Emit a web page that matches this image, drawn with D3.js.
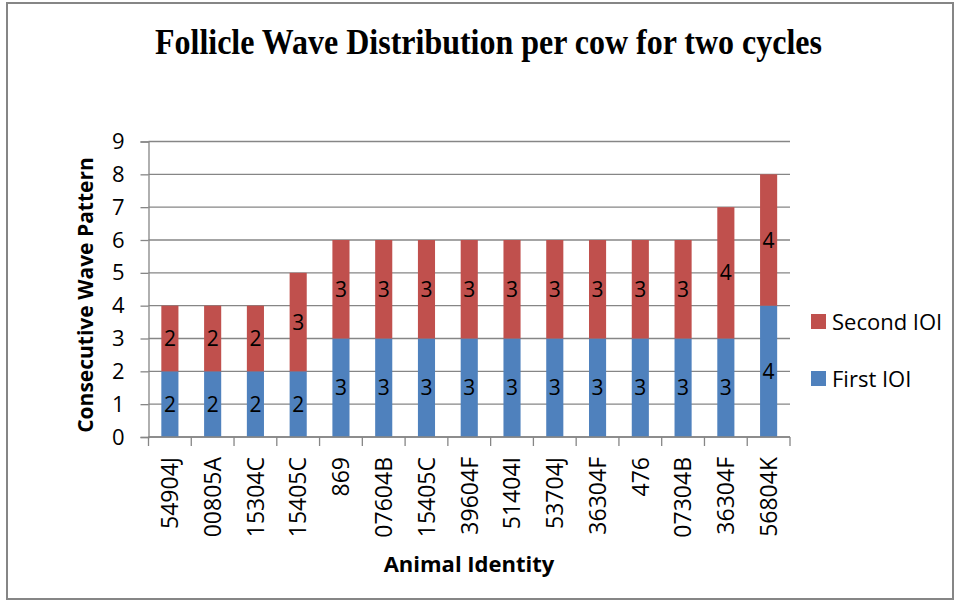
<!DOCTYPE html>
<html>
<head>
<meta charset="utf-8">
<script src="https://cdn.jsdelivr.net/npm/d3@7"></script>
<style>
  body { margin: 0; background: #fff; }
  svg { display: block; }
  text { fill: #000; }
</style>
</head>
<body>
<svg id="chart" width="960" height="602"></svg>
<script>
// Animal IDs on the x axis
const animals = ["54904J", "00805A", "15304C", "15405C", "869", "07604B", "15405C", "39604F",
                 "51404I", "53704J", "36304F", "476", "07304B", "36304F", "56804K"];
// Waves counted in each inter-ovulatory interval
const firstIOI  = [2, 2, 2, 2, 3, 3, 3, 3, 3, 3, 3, 3, 3, 3, 4];
const secondIOI = [2, 2, 2, 3, 3, 3, 3, 3, 3, 3, 3, 3, 3, 4, 4];
const seriesNames = ["First IOI", "Second IOI"];
const seriesColors = ["#4F81BD", "#C0504D"];
const yTicks = [0, 1, 2, 3, 4, 5, 6, 7, 8, 9];

const SANS = "'Open Sans', 'Noto Sans', sans-serif";
const SERIF = "'Liberation Serif', 'Times New Roman', serif";
const GRID = "#868686";

const svg = d3.select("#chart").style("font-family", SANS);
const margin = { left: 148.5, right: 170, top: 141.5, bottom: 165 };
const W = 960, H = 602;

// outer frame
svg.append("rect").attr("x", 7).attr("y", 3).attr("width", 946).attr("height", 596)
  .attr("fill", "#fff").attr("stroke", GRID).attr("stroke-width", 2);

const x = d3.scaleBand().domain(d3.range(animals.length))
  .range([margin.left, W - margin.right]).paddingInner(0.6).paddingOuter(0.3);
const band = d3.scaleBand().domain(d3.range(animals.length))
  .range([margin.left, W - margin.right]);
const y = d3.scaleLinear().domain([0, 9]).range([H - margin.bottom, margin.top]);

// gridlines
svg.append("g").selectAll("line").data(yTicks).join("line")
  .attr("x1", margin.left).attr("x2", W - margin.right)
  .attr("y1", d => y(d)).attr("y2", d => y(d))
  .attr("stroke", GRID).attr("stroke-width", 1.3);

// y axis
const yAxis = svg.append("g").attr("transform", `translate(${margin.left},0)`)
  .call(d3.axisLeft(y).tickValues(yTicks).tickSize(8).tickPadding(16));
yAxis.select(".domain").attr("stroke", GRID).attr("stroke-width", 1.3);
yAxis.selectAll(".tick line").attr("stroke", GRID).attr("stroke-width", 1.3);
yAxis.selectAll("text").attr("font-size", 22).attr("font-family", SANS).attr("fill", "#000");

// stacked bars
const stackData = animals.map((a, i) => ({ i, first: firstIOI[i], second: secondIOI[i] }));
const stacked = d3.stack().keys(["first", "second"])(stackData);
stacked.forEach((layer, k) => {
  const g = svg.append("g");
  g.selectAll("rect").data(layer).join("rect")
    .attr("x", d => x(d.data.i)).attr("width", x.bandwidth())
    .attr("y", d => y(d[1])).attr("height", d => y(d[0]) - y(d[1]))
    .attr("fill", seriesColors[k]);
  g.selectAll("text").data(layer).join("text")
    .attr("x", d => x(d.data.i) + x.bandwidth() / 2)
    .attr("y", d => (y(d[0]) + y(d[1])) / 2)
    .attr("dy", "0.36em").attr("text-anchor", "middle").attr("font-size", 21)
    .text(d => d[1] - d[0]);
});

// x axis with ticks at category boundaries
const xAxisG = svg.append("g").attr("transform", `translate(0,${y(0)})`);
xAxisG.append("line").attr("x1", margin.left).attr("x2", W - margin.right)
  .attr("stroke", GRID).attr("stroke-width", 1.3);
xAxisG.selectAll("line.tk").data(d3.range(animals.length + 1)).join("line").attr("class", "tk")
  .attr("x1", d => margin.left + d * band.bandwidth()).attr("x2", d => margin.left + d * band.bandwidth())
  .attr("y1", 0).attr("y2", 9).attr("stroke", GRID).attr("stroke-width", 1.3);
xAxisG.selectAll("text").data(animals).join("text")
  .attr("transform", (d, i) => `translate(${band(i) + band.bandwidth() / 2},20) rotate(-90)`)
  .attr("text-anchor", "end").attr("dy", "0.36em").attr("font-size", 23)
  .text(d => d);

// axis titles
svg.append("text").attr("x", 469).attr("y", 572).attr("text-anchor", "middle")
  .attr("font-size", 22).attr("font-weight", "bold").text("Animal Identity");
svg.append("text").attr("transform", "translate(93,295) rotate(-90)").attr("text-anchor", "middle")
  .attr("font-size", 21).attr("font-weight", "bold").text("Consecutive Wave Pattern");

// title
svg.append("text").attr("x", 155).attr("y", 53.5)
  .style("font-family", SERIF)
  .attr("font-size", 36).attr("font-weight", "bold")
  .attr("textLength", 667).attr("lengthAdjust", "spacingAndGlyphs")
  .text("Follicle Wave Distribution per cow for two cycles");

// legend (Second IOI on top)
const legendItems = [1, 0];
const lg = svg.append("g");
legendItems.forEach((k, j) => {
  const ly = 314 + j * 57;
  lg.append("rect").attr("x", 811).attr("y", ly).attr("width", 15).attr("height", 15).attr("fill", seriesColors[k]);
  lg.append("text").attr("x", 832).attr("y", ly + 8).attr("dy", "0.36em").attr("font-size", 22).text(seriesNames[k]);
});
</script>
</body>
</html>
